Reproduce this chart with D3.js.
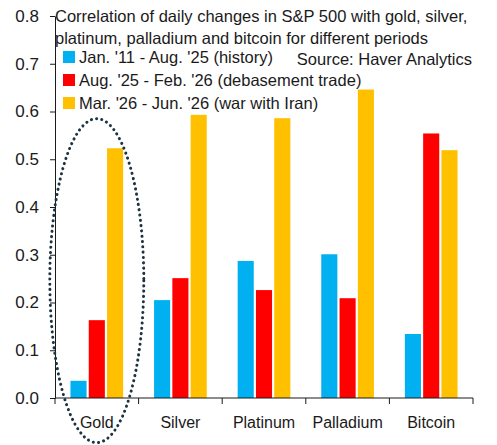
<!DOCTYPE html>
<html>
<head>
<meta charset="utf-8">
<script src="https://cdn.jsdelivr.net/npm/d3@7"></script>
<style>
  body { margin: 0; background: #fff; }
  svg text { font-family: "Liberation Sans", Arial, sans-serif; fill: #1a1a1a; }
</style>
</head>
<body>
<div id="chart-area"></div>
<script>
// Data
const assets = ["Gold", "Silver", "Platinum", "Palladium", "Bitcoin"];
const periods = ["Jan. '11 - Aug. '25 (history)", "Aug. '25 - Feb. '26 (debasement trade)", "Mar. '26 - Jun. '26 (war with Iran)"];
const history = [0.036, 0.205, 0.287, 0.301, 0.134];
const debasement = [0.163, 0.251, 0.226, 0.209, 0.554];
const warIran = [0.523, 0.593, 0.586, 0.646, 0.519];
const yTicks = [0, 0.1, 0.2, 0.3, 0.4, 0.5, 0.6, 0.7, 0.8];
const titleLines = ["Correlation of daily changes in S&P 500 with gold, silver,", "platinum, palladium and bitcoin for different periods"];
const source = "Source: Haver Analytics";

const colors = ["#00B0F0", "#FF0000", "#FFC000"];
const series = [history, debasement, warIran];

// Dimensions
const W = 497, H = 445;
const margin = { left: 55, right: 24, top: 16, bottom: 47 };
const width = W - margin.left - margin.right;
const height = H - margin.top - margin.bottom;

const svg = d3.select("#chart-area").append("svg")
    .attr("width", W)
    .attr("height", H);
const chart = svg.append("g")
    .attr("transform", "translate(" + margin.left + "," + margin.top + ")");

// Scales
const x0 = d3.scaleBand()
    .domain(assets)
    .range([0, width])
    .paddingInner(0.37)
    .paddingOuter(0.185);
const x1 = d3.scaleBand()
    .domain(d3.range(periods.length))
    .range([0, x0.bandwidth()])
    .paddingInner(0.12);
const y = d3.scaleLinear()
    .domain([0, 0.8])
    .range([height, 0]);

// Bars
const groups = chart.selectAll("g.group")
    .data(assets)
    .enter().append("g")
    .attr("class", "group")
    .attr("transform", d => "translate(" + x0(d) + ",0)");
groups.selectAll("rect")
    .data((d, i) => series.map((s, k) => ({ k: k, v: s[i] })))
    .enter().append("rect")
    .attr("x", d => x1(d.k))
    .attr("width", x1.bandwidth())
    .attr("y", d => y(d.v))
    .attr("height", d => y(0) - y(d.v))
    .attr("fill", d => colors[d.k]);

// Y axis
const yAxis = chart.append("g")
    .call(d3.axisLeft(y).tickValues(yTicks).tickFormat(d3.format(".1f")).tickSize(5).tickSizeOuter(0));
yAxis.selectAll("text").attr("font-size", "17px").attr("x", -16);
yAxis.selectAll("path, line").attr("stroke", "#1a1a1a");

// X axis: ticks at band boundaries
const bounds = d3.scaleLinear().domain([0, assets.length]).range([0, width]);
const xAxis = chart.append("g").attr("transform", "translate(0," + height + ")");
xAxis.append("line").attr("x1", 0).attr("x2", width).attr("stroke", "#1a1a1a");
xAxis.selectAll("line.tk")
    .data(d3.range(assets.length + 1))
    .enter().append("line")
    .attr("class", "tk")
    .attr("x1", d => bounds(d)).attr("x2", d => bounds(d))
    .attr("y1", 0).attr("y2", 6)
    .attr("stroke", "#1a1a1a");
xAxis.selectAll("text")
    .data(assets)
    .enter().append("text")
    .attr("x", d => x0(d) + x0.bandwidth() / 2)
    .attr("y", 30)
    .attr("text-anchor", "middle")
    .attr("font-size", "16px")
    .text(d => d);

// Title
chart.append("text")
    .attr("x", 0)
    .attr("y", 6)
    .attr("font-size", "16.5px")
    .selectAll("tspan")
    .data(titleLines)
    .enter().append("tspan")
    .attr("x", 0)
    .attr("dy", (d, i) => i === 0 ? 0 : 22)
    .text(d => d);

// Legend
const legend = chart.selectAll("g.legend")
    .data(periods)
    .enter().append("g")
    .attr("class", "legend")
    .attr("transform", (d, i) => "translate(8," + (35 + i * 23) + ")");
legend.append("rect")
    .attr("width", 12).attr("height", 12)
    .attr("fill", (d, i) => colors[i]);
legend.append("text")
    .attr("x", 16).attr("y", 12)
    .attr("font-size", "16.5px")
    .text(d => d);

// Source
chart.append("text")
    .attr("x", width - 1)
    .attr("y", 49)
    .attr("text-anchor", "end")
    .attr("font-size", "16.5px")
    .text(source);

// Dotted ellipse around Gold
chart.append("ellipse")
    .attr("cx", x0("Gold") + x0.bandwidth() / 2)
    .attr("cy", y(0.25) + 2)
    .attr("rx", 47)
    .attr("ry", 162)
    .attr("fill", "none")
    .attr("stroke", "#1c3342")
    .attr("stroke-width", 3)
    .attr("stroke-dasharray", "0.1 5.2")
    .attr("stroke-linecap", "round");
</script>
</body>
</html>
